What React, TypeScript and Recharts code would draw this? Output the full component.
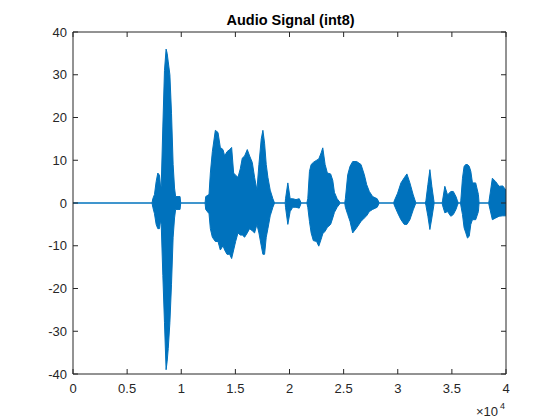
import { ComposedChart, Area, XAxis, YAxis } from "recharts";

// envelope of the int8 audio signal: sample index, max and min per segment
const sampleIdx = [
  0, 7300,
  7374, 7527, 7681, 7834, 7988, 8100, 8150, 8300, 8450, 8600, 8700, 8800, 8950, 9100, 9250, 9380, 9480, 9890, 9950,
  12200, 12259, 12565, 12688, 12872, 13149, 13395, 13610, 13856, 14010, 14225, 14471, 14655, 14840, 15024, 15239, 15454,
  15639, 15854, 16100, 16315, 16561, 16775, 16990, 17174, 17390, 17543, 17697, 17851, 18004, 18219, 18465, 18619,
  19600, 19632, 19846, 20062, 20300, 20600, 20900, 21080,
  21600, 21690, 21844, 22000, 22200, 22500, 22704, 22920, 23074, 23290, 23500, 23800, 23996, 24149, 24400, 24702,
  25100, 25162, 25377, 25592, 25838, 26207, 26607, 26914, 27129, 27375, 27682, 28100, 28296,
  29620, 29679, 29986, 30294, 30600, 30846, 31123, 31430, 31676,
  32550, 32600, 32785, 32969, 33150, 33366,
  34100, 34134, 34350, 34600, 34900, 35130, 35380, 35516, 35600,
  35800, 35823, 35980, 36130, 36290, 36440, 36600, 36750, 36900, 37200, 37450, 37513,
  38400, 38434, 38740, 39050, 39360, 39700, 40000,
];

const upper = [
  0, 0,
  1, 2, 5, 7, 6.5, 3.5, 4, 18, 31, 36, 35, 33, 30, 21, 9, 3.5, 1.5, 1.5, 0,
  0, 1.5, 2, 7, 12, 17, 16.5, 13, 12.5, 11, 12, 12.5, 13, 7, 6.5, 6, 8,
  10.5, 11, 12.5, 11, 9.5, 6, 3, 9, 15, 17, 14, 9, 6, 3, 1, 0,
  0, 1, 4.7, 1, 1, 0.8, 1, 0,
  0, 1, 7.4, 9, 9.5, 10, 10.3, 11.7, 12.9, 9, 7, 6.8, 5.3, 2.5, 1, 0,
  0, 1, 6.6, 8.6, 9.7, 9.7, 9, 6.6, 4.3, 2.7, 1.5, 1, 0,
  0, 0.5, 2.3, 4.7, 5.9, 6.8, 4.7, 1.9, 0,
  0, 0.5, 4.3, 7.8, 3.9, 0,
  0, 0.5, 3.9, 1.9, 2.7, 2.7, 1.5, 0.5, 0,
  0, 0.5, 5.8, 8.6, 9, 9, 8.6, 7.4, 4.7, 4.7, 2, 0,
  0, 0.5, 5.8, 5, 3.9, 4, 3,
];

const lower = [
  0, 0,
  -1, -2.5, -5, -6, -6, -4, -5, -17, -28, -39, -37, -34, -28, -19, -8, -3.5, -1.5, -1.5, 0,
  0, -1.5, -2.5, -6, -8, -9, -9, -11, -10, -11, -12, -12, -13, -11, -9, -7, -7.5,
  -7.5, -8, -7, -6, -6.5, -7, -5, -7, -10, -12, -12, -8, -6, -3, -1, 0,
  0, -1, -5, -2, -1, -1, -1.2, 0,
  0, -1, -4.3, -7, -8.8, -9, -10.1, -8.5, -7.2, -6.6, -5.7, -5, -3.5, -2.2, -1, 0,
  0, -1, -2.7, -4.3, -7, -5.8, -4.3, -3.5, -3, -2, -1.5, -1, 0,
  0, -0.5, -2.3, -3.9, -5, -5, -3.9, -1.6, 0,
  0, -0.5, -3.1, -6.2, -3.5, 0,
  0, -0.5, -2.3, -2, -3.1, -2.7, -1.5, -0.5, 0,
  0, -0.5, -2.7, -5.8, -7, -8.2, -7.8, -5, -3.9, -3.9, -2, 0,
  0, -0.5, -3.9, -3.5, -3.1, -3, -3,
];

const xTicks = [0, 5000, 10000, 15000, 20000, 25000, 30000, 35000, 40000];
const yTicks = [-40, -30, -20, -10, 0, 10, 20, 30, 40];

const data = sampleIdx.map((t, i) => ({ t, range: [lower[i], upper[i]] }));

const font = "'Liberation Sans', Arial, Helvetica, sans-serif";
const axisColor = "#262626";
const TICK = 5;

// MATLAB-style ticks point into the plot box
const BottomTick = (props: any) => {
  const { x, y, payload } = props;
  return (
    <g>
      <line x1={x} y1={y} x2={x} y2={y - TICK} stroke={axisColor} />
      <text x={x} y={y + 19} textAnchor="middle" fontSize={13} fill={axisColor} fontFamily={font}>
        {String(payload.value / 10000)}
      </text>
    </g>
  );
};

const TopTick = (props: any) => {
  const { x, y } = props;
  return <line x1={x} y1={y} x2={x} y2={y + TICK} stroke={axisColor} />;
};

const LeftTick = (props: any) => {
  const { x, y, payload } = props;
  return (
    <g>
      <line x1={x} y1={y} x2={x + TICK} y2={y} stroke={axisColor} />
      <text x={x - 6} y={y + 4.5} textAnchor="end" fontSize={13} fill={axisColor} fontFamily={font}>
        {payload.value}
      </text>
    </g>
  );
};

const RightTick = (props: any) => {
  const { x, y } = props;
  return <line x1={x} y1={y} x2={x - TICK} y2={y} stroke={axisColor} />;
};

export default function App() {
  return (
    <div style={{ position: "absolute", left: 0, top: 0, width: 560, height: 420, background: "#fff" }}>
      <ComposedChart
        width={560}
        height={420}
        data={data}
        margin={{ top: 22, right: 44, bottom: 16, left: 33 }}
      >
        <XAxis
          xAxisId="b"
          dataKey="t"
          type="number"
          domain={[0, 40000]}
          ticks={xTicks}
          height={30}
          tickLine={false}
          tickSize={0}
          tickMargin={0}
          stroke={axisColor}
          tick={<BottomTick />}
          interval={0}
          allowDataOverflow
        />
        <XAxis
          xAxisId="top"
          orientation="top"
          dataKey="t"
          type="number"
          domain={[0, 40000]}
          ticks={xTicks}
          height={10}
          tickLine={false}
          tickSize={0}
          tickMargin={0}
          stroke={axisColor}
          tick={<TopTick />}
          interval={0}
          allowDataOverflow
        />
        <YAxis
          yAxisId="l"
          type="number"
          domain={[-40, 40]}
          ticks={yTicks}
          width={40}
          tickLine={false}
          tickSize={0}
          tickMargin={0}
          stroke={axisColor}
          tick={<LeftTick />}
          interval={0}
          allowDataOverflow
        />
        <YAxis
          yAxisId="r"
          orientation="right"
          type="number"
          domain={[-40, 40]}
          ticks={yTicks}
          width={10}
          tickLine={false}
          tickSize={0}
          tickMargin={0}
          stroke={axisColor}
          tick={<RightTick />}
          interval={0}
          allowDataOverflow
        />
        <Area
          xAxisId="b"
          yAxisId="l"
          type="linear"
          dataKey="range"
          stroke="#0072BD"
          strokeWidth={1}
          fill="#0072BD"
          fillOpacity={1}
          dot={false}
          activeDot={false}
          isAnimationActive={false}
        />
      </ComposedChart>
      <svg
        width={560}
        height={420}
        style={{ position: "absolute", left: 0, top: 0, pointerEvents: "none" }}
      >
        <text x={290.5} y={25} textAnchor="middle" fontFamily={font} fontWeight="bold" fontSize={14.5} fill="#000">
          Audio Signal (int8)
        </text>
        <text x={476} y={416} fontFamily={font} fontSize={13} fill={axisColor}>
          ×10
          <tspan x={500} y={408.5} fontSize={9}>4</tspan>
        </text>
      </svg>
    </div>
  );
}
